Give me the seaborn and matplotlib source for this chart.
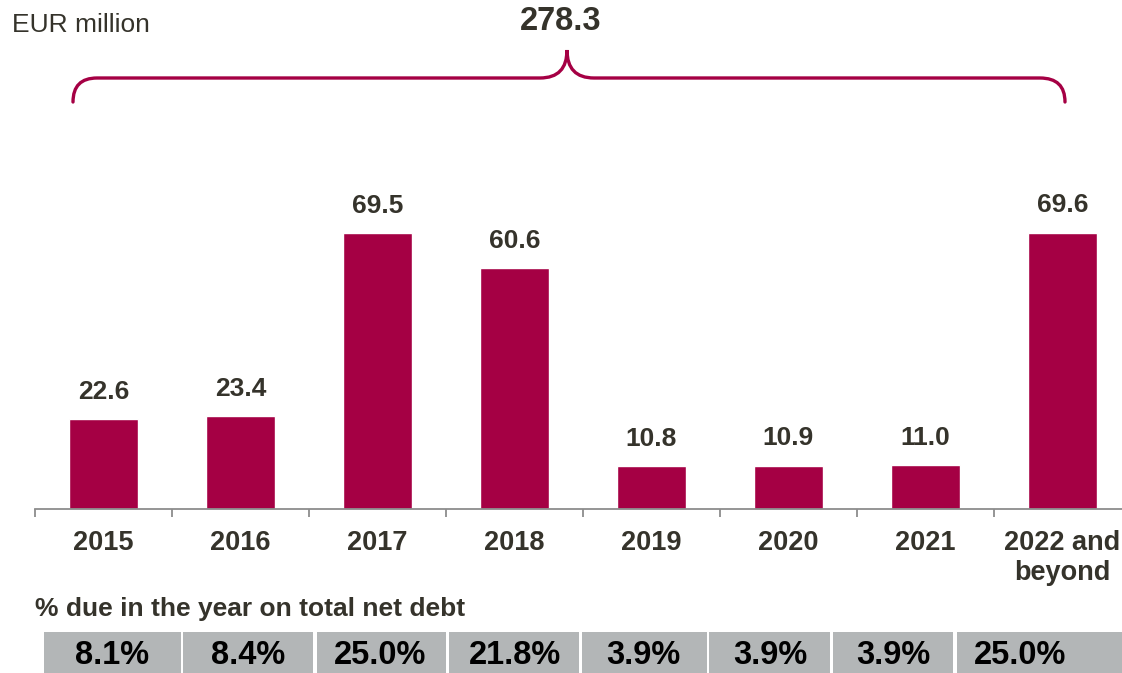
import matplotlib
matplotlib.use("Agg")
from matplotlib import pyplot as plt
from matplotlib.path import Path
from matplotlib.patches import PathPatch
import pandas as pd
import seaborn as sns

# data
years = ["2015", "2016", "2017", "2018", "2019", "2020", "2021", "2022 and\nbeyond"]
amounts = [22.6, 23.4, 69.5, 60.6, 10.8, 10.9, 11.0, 69.6]
share_pct = [8.1, 8.4, 25.0, 21.8, 3.9, 3.9, 3.9, 25.0]
total_label = "278.3"

BAR = "#A50044"
TXT = "#35332b"
CELL = "#b3b6b7"

# layout of the percentage strip (pixel edges of the grey cells)
cell_left = [44, 183, 317, 449, 582, 709, 833, 957]
cell_right = [181, 313, 446, 579, 707, 830, 953, 1122]

sns.set_style("white")
plt.rcParams["font.family"] = ["Liberation Sans", "DejaVu Sans"]

W, H = 1122, 673
fig = plt.figure(figsize=(W / 100, H / 100), dpi=100)

# main bar axes: baseline at y=509px, category width 137px
ax = fig.add_axes([35 / W, (H - 509) / H, 1096 / W, 509 / H])
df = pd.DataFrame({"year": years, "amount": amounts})
sns.barplot(data=df, x="year", y="amount", color=BAR, width=0.5,
            saturation=1, ax=ax)
ax.set_xlim(-0.5, 7.5)
ax.set_ylim(0, 509 / 3.97)
ax.set_xlabel("")
ax.set_ylabel("")
ax.set_yticks([])
for s in ["top", "right", "left"]:
    ax.spines[s].set_visible(False)
ax.spines["bottom"].set_color("#8c8c8c")
ax.spines["bottom"].set_linewidth(1.3)
ax.set_xticks([i - 0.5 for i in range(len(years) + 1)], minor=True)
ax.tick_params(axis="x", which="both", bottom=True)
ax.tick_params(axis="x", which="major", length=0, pad=15, labelsize=19.5,
               labelcolor=TXT)
ax.tick_params(axis="x", which="minor", length=6, width=1.3,
               color="#8c8c8c", direction="out")
for lbl in ax.get_xticklabels():
    lbl.set_fontweight("bold")
    lbl.set_linespacing(1.2)

for i, v in enumerate(amounts):
    ax.annotate(f"{v:.1f}", (i, v), xytext=(0, 11), textcoords="offset points",
                ha="center", va="bottom", fontsize=19, fontweight="bold",
                color=TXT)


# curly brace over all bars (pixel coords converted to data)
def px(x, y):
    return ((x - 103.5) / 137, (509 - y) / 3.97)


pts = [px(73, 102), px(73, 78), px(97, 78), px(540, 78), px(567, 78),
       px(567, 50), px(567, 78), px(594, 78), px(1040, 78), px(1065, 78),
       px(1065, 102)]
codes = [Path.MOVETO, Path.CURVE3, Path.CURVE3, Path.LINETO, Path.CURVE3,
         Path.CURVE3, Path.CURVE3, Path.CURVE3, Path.LINETO, Path.CURVE3,
         Path.CURVE3]
ax.add_patch(PathPatch(Path(pts, codes), facecolor="none", edgecolor=BAR,
                       lw=2.4, capstyle="round", clip_on=False))
cx, cy = px(561, 22)
ax.text(cx, cy, total_label, ha="center", va="center", fontsize=23.5,
        fontweight="bold", color=TXT)

fig.text(12 / W, 1 - 25 / H, "EUR million", ha="left", va="center",
         fontsize=19, color=TXT)
fig.text(35 / W, 1 - 609 / H, "% due in the year on total net debt",
         ha="left", va="center", fontsize=19, fontweight="bold", color=TXT)

# percentage strip, in pixel units
tax = fig.add_axes([0, 0, 1, 41 / H])
tax.set_xlim(0, W)
tax.set_ylim(0, 1)
widths = [r - l for l, r in zip(cell_left, cell_right)]
tax.bar(cell_left, [1] * len(share_pct), width=widths, align="edge",
        color=CELL, linewidth=0)
text_x = [112, 248, 380, 515, 643, 770, 893, 1020]
for x, p in zip(text_x, share_pct):
    tax.text(x, 0.42, f"{p:.1f}%", ha="center", va="center", fontsize=23.5,
             fontweight="bold", color="black")
tax.axis("off")

fig.savefig("out.png", dpi=100)
